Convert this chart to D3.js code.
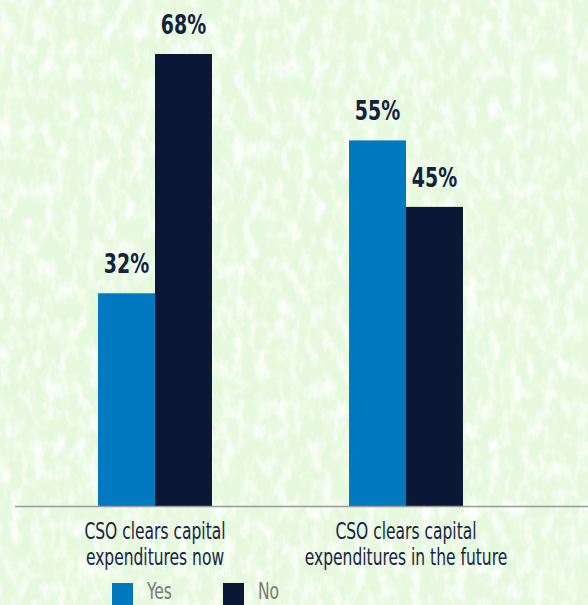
<!DOCTYPE html>
<html><head><meta charset="utf-8">
<script src="https://cdn.jsdelivr.net/npm/d3@7"></script>
<style>
html,body{margin:0;padding:0;background:#e5f8da;}
svg{display:block;}
</style></head>
<body>
<script>
const categories = [["CSO clears capital","expenditures now"],["CSO clears capital","expenditures in the future"]];
const categoryKeys = ["now","future"];
const seriesNames = ["Yes","No"];
const yesValues = [32,55];
const noValues = [68,45];
const colors = {Yes:"#0079c1", No:"#0a1836"};

const W = 588, H = 605;
const svg = d3.select("body").append("svg").attr("width",W).attr("height",H);

// background with subtle paper texture
const defs = svg.append("defs");
function tex(id, freq, seed, rgb, a, b){
  const f = defs.append("filter").attr("id",id).attr("x",0).attr("y",0).attr("width","100%").attr("height","100%");
  f.append("feTurbulence").attr("type","fractalNoise").attr("baseFrequency",freq).attr("numOctaves",4).attr("seed",seed).attr("result","n");
  f.append("feColorMatrix").attr("in","n").attr("type","matrix")
   .attr("values",`0 0 0 0 ${rgb[0]}  0 0 0 0 ${rgb[1]}  0 0 0 0 ${rgb[2]}  ${a} 0 0 0 ${b}`);
}
tex("texG","0.05 0.035",7,[0.82,0.96,0.74],2.6,-1.2);
tex("texW","0.09 0.05",3,[0.96,1.0,0.95],2.8,-1.2);
svg.append("rect").attr("width",W).attr("height",H).attr("fill","#e6f8dd");
svg.append("rect").attr("width",W).attr("height",H).attr("filter","url(#texG)").attr("opacity",0.8);
svg.append("rect").attr("width",W).attr("height",H).attr("filter","url(#texW)");

const baseY = 506;
const y = d3.scaleLinear().domain([0,68]).range([baseY,54]);
const x0 = d3.scaleBand().domain(categoryKeys).range([29.5,531.5]).paddingInner(0.546).paddingOuter(0.273);
const x1 = d3.scaleBand().domain(seriesNames).range([0,x0.bandwidth()]);

const data = categoryKeys.map((k,i)=>({key:k, values:[{s:"Yes",v:yesValues[i]},{s:"No",v:noValues[i]}]}));

const font = "'DejaVu Sans Condensed','DejaVu Sans',sans-serif";

const g = svg.append("g").selectAll("g").data(data).join("g")
  .attr("transform",d=>`translate(${x0(d.key)},0)`);
g.selectAll("rect").data(d=>d.values).join("rect")
  .attr("x",d=>x1(d.s)).attr("width",x1.bandwidth())
  .attr("y",d=>y(d.v)).attr("height",d=>baseY-y(d.v))
  .attr("fill",d=>colors[d.s]);
g.selectAll("text").data(d=>d.values).join("text")
  .attr("transform",d=>`translate(${x1(d.s)+x1.bandwidth()/2},${y(d.v)-20}) scale(0.78,1)`)
  .attr("text-anchor","middle").attr("font-family",font).attr("font-weight","bold")
  .attr("font-size",27).attr("fill","#15213f").text(d=>d.v+"%");

// axis line
svg.append("line").attr("x1",15).attr("x2",W).attr("y1",baseY+0.5).attr("y2",baseY+0.5)
  .attr("stroke","#9a9a9a").attr("stroke-width",1.5);

// category labels
categoryKeys.forEach((k,i)=>{
  const t = svg.append("text").attr("text-anchor","middle").attr("font-family",font)
    .attr("transform",`translate(${x0(k)+x0.bandwidth()/2},539) scale(0.75,1)`)
    .attr("font-size",23).attr("fill","#1a2444");
  categories[i].forEach((line,j)=>{
    t.append("tspan").attr("x",0).attr("y",j*26).text(line);
  });
});

// legend
const legX = [112,223];
seriesNames.forEach((s,i)=>{
  svg.append("rect").attr("x",legX[i]).attr("y",583).attr("width",21).attr("height",22).attr("fill",colors[s]);
  svg.append("text").attr("transform",`translate(${legX[i]+35},599) scale(0.75,1)`).attr("font-family",font)
    .attr("font-size",23).attr("fill","#7a7a7a").text(s);
});
</script>
</body></html>
